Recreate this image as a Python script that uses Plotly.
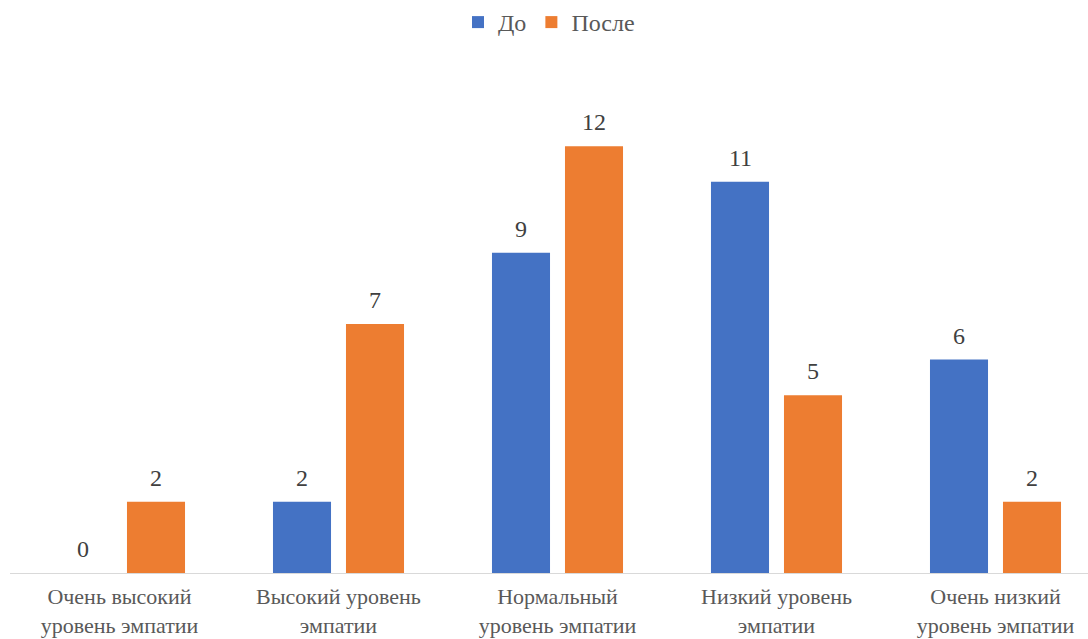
import plotly.graph_objects as go

categories = [
    "Очень высокий<br>уровень эмпатии",
    "Высокий уровень<br>эмпатии",
    "Нормальный<br>уровень эмпатии",
    "Низкий уровень<br>эмпатии",
    "Очень низкий<br>уровень эмпатии",
]
before_values = [0, 2, 9, 11, 6]
after_values = [2, 7, 12, 5, 2]
series_names = ["До", "После"]
series_colors = ["#4472C4", "#ED7D31"]

FONT = "Times New Roman, Liberation Serif, serif"
SIZE = 24
TICK_SIZE = 22
BARGAP = 1 / 3
idx = list(range(len(categories)))

fig = go.Figure()
for name, vals, color in zip(series_names, [before_values, after_values], series_colors):
    fig.add_trace(go.Bar(x=idx, y=vals, name=name, marker=dict(color=color, line_width=0)))

# value labels above each bar
offset = (1 - BARGAP) / 4
for sign, vals in zip([-1, 1], [before_values, after_values]):
    for i, v in enumerate(vals):
        fig.add_annotation(
            x=i + sign * offset, y=v, text=str(v), showarrow=False,
            yanchor="bottom", yshift=9,
            font=dict(family=FONT, size=SIZE, color="#404040"),
        )

fig.update_layout(
    width=1088, height=639,
    margin=dict(l=10, r=0, t=75, b=66),
    paper_bgcolor="white", plot_bgcolor="white",
    barmode="group", bargap=BARGAP, bargroupgap=0.205,
    font=dict(family=FONT, size=SIZE, color="#595959"),
    legend=dict(orientation="h", x=0.5, xanchor="center", y=1.0, yanchor="top",
                yref="container", font=dict(family=FONT, size=SIZE, color="#595959"),
                itemwidth=30, tracegroupgap=0),
    showlegend=True,
)
fig.update_xaxes(
    tickmode="array", tickvals=idx, ticktext=categories,
    range=[-0.5, -0.5 + 1078 / 219],
    showline=True, linecolor="#D9D9D9", linewidth=1,
    showgrid=False, zeroline=False, ticks="",
    ticklabelstandoff=4, automargin=False,
    tickfont=dict(family=FONT, size=TICK_SIZE, color="#595959"),
)
fig.update_yaxes(range=[0, 14], visible=False, showgrid=False, zeroline=False)

fig.write_html("out.html")
